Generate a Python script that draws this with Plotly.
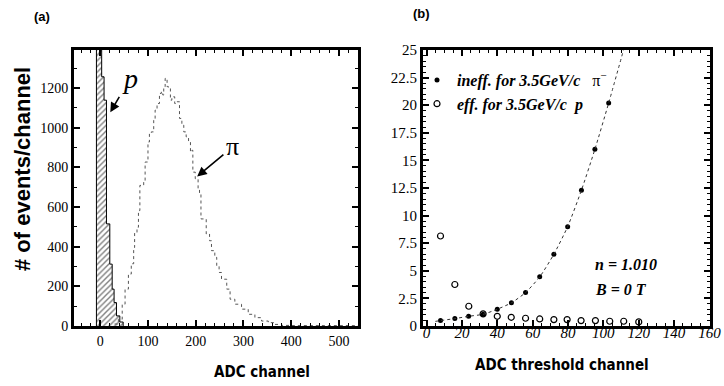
import plotly.graph_objects as go

# ---------------- Panel (a): ADC spectra ----------------
# proton histogram (hatched): bin edges and counts
p_edges = [-8, 3, 8, 13, 20, 25, 29, 34, 41, 48]
p_counts = [1500, 1257, 1139, 515, 312, 186, 118, 51, 20]

# pion histogram (dotted step outline): bin left edge and counts
pi_x = [30, 38, 46, 52, 59, 65, 70, 72, 77, 80, 83, 91, 94, 100, 103, 107, 112, 115,
        119, 124, 128, 131, 133, 136, 140, 143, 147, 150, 156, 161, 166, 171, 175, 180,
        185, 189, 192, 194, 199, 205, 208, 211, 222, 229, 233, 240, 244, 249, 254, 265,
        272, 282, 296, 310, 324, 338, 352, 366, 380, 400, 540]
pi_y = [10, 34, 110, 186, 262, 314, 396, 472, 498, 582, 709, 726, 827, 928, 970, 979, 1038, 1089,
        1122, 1173, 1181, 1165, 1207, 1249, 1207, 1198, 1139, 1156, 1122, 1131, 1047, 1013, 979, 954,
        928, 878, 886, 776, 743, 692, 667, 540, 464, 430, 380, 346, 304, 270, 236, 186,
        135, 110, 85, 59, 42, 25, 17, 8, 3, 2, 2]

# ---------------- Panel (b): efficiency vs threshold ----------------
thr_x = [7.9, 16, 23.8, 32, 40, 48, 56, 64, 72, 79.8, 87.6, 95.2, 103]
ineff_pi = [0.49, 0.67, 0.88, 1.06, 1.52, 2.1, 3.03, 4.45, 6.5, 9.0, 12.3, 16.0, 20.2]

eff_x = [7.9, 16, 23.9, 32, 40, 47.9, 56, 64, 72, 79.5, 87.4, 95.5, 103.6, 111.5, 120]
eff_p = [8.15, 3.76, 1.79, 1.1, 0.88, 0.79, 0.7, 0.64, 0.58, 0.58, 0.49, 0.49, 0.43, 0.43, 0.37]

fit_x = [5, 7.9, 16, 23.8, 32, 40, 48, 56, 64, 72, 79.8, 87.6, 95.2, 103, 111.4]
fit_y = [0.42, 0.49, 0.67, 0.88, 1.06, 1.52, 2.1, 3.03, 4.45, 6.5, 9.0, 12.3, 16.0, 20.2, 25]

a_xticks = [0, 100, 200, 300, 400, 500]
a_yticks = [0, 200, 400, 600, 800, 1000, 1200]

W, H = 724, 386
SERIF = "Liberation Serif, Times New Roman, serif"
SANS = "Liberation Sans, Arial, sans-serif"
NARROW = "DejaVu Sans Condensed, Liberation Sans, Arial, sans-serif"

# step arrays: x: e0, e0..en, en ; y: 0, c0..c_{n-1}, c_{n-1}, 0
px_step = [p_edges[0]] + list(p_edges) + [p_edges[-1]]
py_step = [0] + list(p_counts) + [p_counts[-1], 0]

fig = go.Figure()

fig.add_trace(go.Scatter(
    x=px_step, y=py_step, mode="lines", line=dict(color="black", width=1, shape="hv"),
    fill="tozeroy", fillcolor="rgba(0,0,0,0)",
    fillpattern=dict(shape="/", fgcolor="black", bgcolor="white", size=4, solidity=0.35),
    xaxis="x", yaxis="y", showlegend=False, hoverinfo="skip"))

fig.add_trace(go.Scatter(
    x=pi_x, y=pi_y, mode="lines", line=dict(color="#555", width=1, shape="hv", dash="dot"),
    xaxis="x", yaxis="y", showlegend=False, hoverinfo="skip"))

# panel b traces
fig.add_trace(go.Scatter(
    x=thr_x, y=ineff_pi, mode="markers", marker=dict(symbol="circle", size=5, color="black"),
    xaxis="x2", yaxis="y2",
    name="<b><i>ineff. for 3.5GeV/c</i></b>\u00a0\u00a0\u00a0π<sup>−</sup>"))
fig.add_trace(go.Scatter(
    x=eff_x, y=eff_p, mode="markers",
    marker=dict(symbol="circle-open", size=6, color="black", line=dict(width=1.2)),
    xaxis="x2", yaxis="y2",
    name="<b><i>eff. for 3.5GeV/c\u00a0\u00a0p</i></b>"))
fig.add_trace(go.Scatter(
    x=fit_x, y=fit_y, mode="lines", line=dict(color="#333", width=1, dash="dot", shape="spline", smoothing=0.6),
    xaxis="x2", yaxis="y2", showlegend=False, hoverinfo="skip"))

axis_common = dict(showline=True, linewidth=3, linecolor="black", mirror="allticks",
                   ticks="inside", ticklen=6, tickwidth=1.5, tickcolor="black",
                   showgrid=False, zeroline=False, automargin=False)

fig.update_layout(
    width=W, height=H, margin=dict(l=0, r=0, t=0, b=0, autoexpand=False),
    paper_bgcolor="white", plot_bgcolor="white",
    xaxis=dict(domain=[74 / W, 358 / W], range=[-55, 540], anchor="y",
               tickvals=a_xticks, tickfont=dict(family=SERIF, size=14, color="black"),
               ticklabelstandoff=0,
               minor=dict(dtick=20, ticks="inside", ticklen=3, tickcolor="black", tickwidth=1),
               **axis_common),
    yaxis=dict(domain=[(H - 326) / H, (H - 50) / H], range=[0, 1392], anchor="x",
               tickvals=a_yticks, tickfont=dict(family=SERIF, size=14, color="black"),
               minor=dict(dtick=100, ticks="inside", ticklen=3, tickcolor="black", tickwidth=1),
               **axis_common),
    xaxis2=dict(domain=[423 / W, 710 / W], range=[-2, 160.3], anchor="y2", dtick=20,
                tickfont=dict(family=SERIF, size=15, color="black", style="italic"),
                ticklabelstandoff=-9,
                minor=dict(dtick=5, ticks="inside", ticklen=3, tickcolor="black", tickwidth=1),
                **axis_common),
    yaxis2=dict(domain=[(H - 326) / H, (H - 50) / H], range=[0, 25], anchor="x2", dtick=2.5,
                tickfont=dict(family=SERIF, size=15, color="black"),
                minor=dict(dtick=0.5, ticks="inside", ticklen=3, tickcolor="black", tickwidth=1),
                **axis_common),
    legend=dict(x=417 / W, y=1 - 63 / H, xanchor="left", yanchor="top",
                bgcolor="rgba(0,0,0,0)", font=dict(family=SERIF, size=16, color="black"),
                itemwidth=30, tracegroupgap=0),
)

ann = []
ann.append(dict(text="<b>(a)</b>", x=42 / W, y=1 - 16 / H, xref="paper", yref="paper",
                xanchor="center", yanchor="middle",
                showarrow=False, font=dict(family=SANS, size=13, color="black")))
ann.append(dict(text="<b>(b)</b>", x=421 / W, y=1 - 13 / H, xref="paper", yref="paper",
                xanchor="center", yanchor="middle",
                showarrow=False, font=dict(family=SANS, size=13, color="black")))
ann.append(dict(text="<b># of events/channel</b>", x=22 / W, y=1 - 169 / H, xref="paper", yref="paper",
                xanchor="center", yanchor="middle",
                textangle=-90, showarrow=False, font=dict(family=SANS, size=22, color="black")))
ann.append(dict(text="<b>ADC channel</b>", x=262 / W, y=1 - 372 / H, xref="paper", yref="paper",
                xanchor="center", yanchor="middle",
                showarrow=False, font=dict(family=NARROW, size=15, color="black")))
ann.append(dict(text="<b>ADC threshold channel</b>", x=562 / W, y=1 - 365 / H, xref="paper", yref="paper",
                xanchor="center", yanchor="middle",
                showarrow=False, font=dict(family=NARROW, size=15, color="black")))
# particle labels with arrows (panel a): text sits at the arrow tail
ann.append(dict(text="<i>p</i>", x=21, y=1078, ax=63, ay=1250, xref="x", yref="y", axref="x", ayref="y",
                showarrow=True, arrowhead=2, arrowsize=1.2, arrowwidth=1.6, arrowcolor="black",
                startstandoff=3, font=dict(family=SERIF, size=28, color="black")))
ann.append(dict(text="π", x=203, y=754, ax=278, ay=905, xref="x", yref="y", axref="x", ayref="y",
                showarrow=True, arrowhead=2, arrowsize=1.2, arrowwidth=1.6, arrowcolor="black",
                startstandoff=2, font=dict(family=SERIF, size=26, color="black")))
# panel b text
ann.append(dict(text="<b><i>n = 1.010</i></b>", x=94.4, y=5.6, xref="x2", yref="y2", xanchor="left",
                yanchor="middle",
                showarrow=False, font=dict(family=SERIF, size=16, color="black")))
ann.append(dict(text="<b><i>B = 0 T</i></b>", x=94.4, y=3.33, xref="x2", yref="y2", xanchor="left",
                yanchor="middle",
                showarrow=False, font=dict(family=SERIF, size=16, color="black")))
fig.update_layout(annotations=ann)

fig.write_html("out.html", config={"displayModeBar": False},
               post_script="document.body.style.margin='0';")
